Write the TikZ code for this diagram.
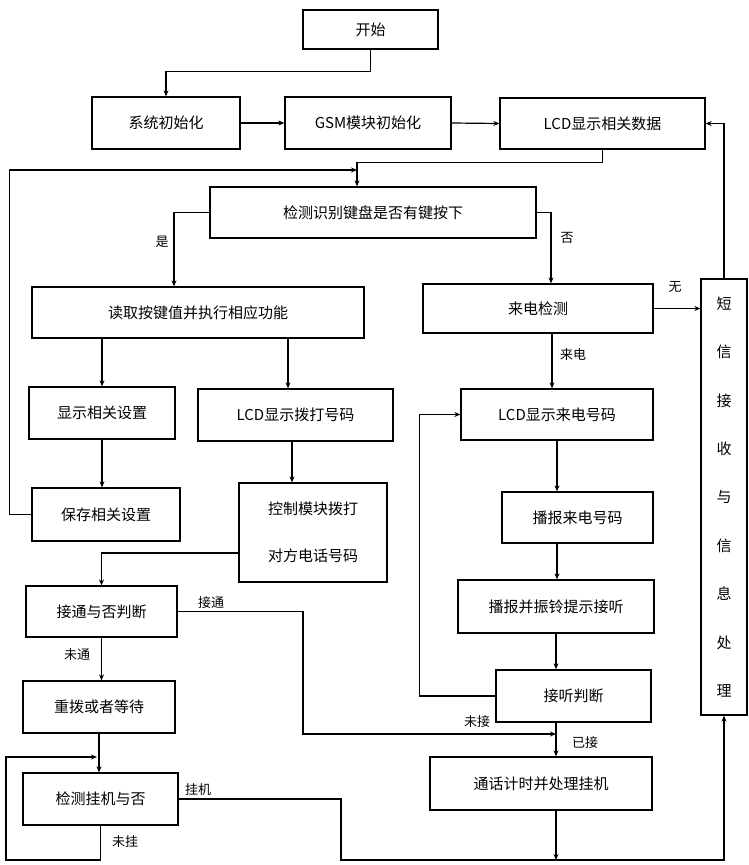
\documentclass[tikz,border=0pt]{standalone}
\usepackage{fontspec}
\setmainfont{Noto Sans CJK SC}
\usetikzlibrary{arrows.meta}
\begin{document}
\begin{tikzpicture}[x=1pt,y=-1pt,
  box/.style={draw, line width=1.3pt, inner sep=0pt, font=\fontsize{15}{18}\selectfont, align=center},
  ln/.style={line width=1.2pt},
  arr/.style={line width=1.2pt, -{Stealth[length=6pt,width=5pt]}},
  thk/.style={line width=2pt, -{Stealth[length=6pt,width=5pt]}},
  lab/.style={font=\fontsize{13}{15}\selectfont, inner sep=1pt}]
\useasboundingbox (0,0) rectangle (748,865);
% boxes
\node[box, minimum width=135pt, minimum height=39pt] (start) at (370.5,29.5) {开始};
\node[box, minimum width=148pt, minimum height=52pt] (init) at (166,123) {系统初始化};
\node[box, minimum width=166pt, minimum height=52pt] (gsm) at (368,123) {GSM模块初始化};
\node[box, minimum width=205pt, minimum height=51pt] (lcd1) at (602.5,123.5) {LCD显示相关数据};
\node[box, minimum width=326pt, minimum height=51pt] (dec) at (373,212.5) {检测识别键盘是否有键按下};
\node[box, minimum width=332pt, minimum height=51pt] (read) at (198,312.5) {读取按键值并执行相应功能};
\node[box, minimum width=146pt, minimum height=52pt] (showset) at (102,413) {显示相关设置};
\node[box, minimum width=195pt, minimum height=52pt] (lcddial) at (295.5,415) {LCD显示拨打号码};
\node[box, minimum width=148pt, minimum height=53pt] (save) at (106,514.5) {保存相关设置};
\node[box, minimum width=148pt, minimum height=99pt, font=\fontsize{15}{47}\selectfont] (ctrl) at (313,532.5) {控制模块拨打\\对方电话号码};
\node[box, minimum width=151pt, minimum height=51pt] (conn) at (101.5,611.5) {接通与否判断};
\node[box, minimum width=152pt, minimum height=52pt] (redial) at (99,707) {重拨或者等待};
\node[box, minimum width=155pt, minimum height=52pt] (hang) at (100.5,799) {检测挂机与否};
\node[box, minimum width=230pt, minimum height=49pt] (ring) at (538,308.5) {来电检测};
\node[box, minimum width=192pt, minimum height=51pt] (lcdring) at (557,414.5) {LCD显示来电号码};
\node[box, minimum width=151pt, minimum height=51pt] (announce) at (577.5,517.5) {播报来电号码};
\node[box, minimum width=196pt, minimum height=53pt] (ringtone) at (556,606.5) {播报并振铃提示接听};
\node[box, minimum width=155pt, minimum height=52pt] (answer) at (573.5,696) {接听判断};
\node[box, minimum width=222pt, minimum height=53pt] (talk) at (541,783.5) {通话计时并处理挂机};
\node[box, minimum width=46pt, minimum height=436pt, font=\fontsize{15}{48.4}\selectfont] (sms) at (724,497) {短\\信\\接\\收\\与\\信\\息\\处\\理};
% junction coordinates
\coordinate (j1) at (357,170);
\coordinate (j2) at (556,734);
\coordinate (j3) at (97,757);
\coordinate (c303) at (303,734);
\coordinate (b1) at (341,860);
\coordinate (bot) at (0,860);
% connectors
\draw[arr] (start.south) -- ++(0,22) -| (init.north);
\draw[arr] (init.east) -- (gsm.west);
\draw[arr] (gsm.east) -- (lcd1.west);
\draw[arr] (sms.north) |- (lcd1.east);
\draw[arr] (lcd1.south) -- ++(0,13) -| ([xshift=-16pt]dec.north);
\draw[arr] (save.west) -- ++(-22,0) |- (j1);
\draw[arr] (dec.west) -| ([xshift=-24pt]read.north);
\node[lab] at (162,242) {是};
\draw[arr] (dec.east) -| ([xshift=13pt]ring.north);
\node[lab] at (567,238) {否};
\draw[arr] (showset.north |- read.south) -- (showset.north);
\draw[thk] ([xshift=-7.5pt]lcddial.north |- read.south) -- ([xshift=-7.5pt]lcddial.north);
\draw[arr] (showset.south) -- (showset.south |- save.north);
\draw[arr] ([xshift=-3.5pt]lcddial.south) -- ([xshift=-3.5pt]lcddial.south |- ctrl.north);
\draw[arr] ([yshift=-20.5pt]ctrl.west) -| (conn.north);
\draw[arr] (conn.east) -| (c303) -- (j2);
\node[lab] at (211,603) {接通};
\draw[arr] (conn.south) -- (conn.south |- redial.north);
\node[lab] at (77,655) {未通};
\draw[thk] (redial.south) -- (redial.south |- hang.north);
\draw[arr] (hang.east) -| (b1) -| (sms.south);
\node[lab] at (198,790) {挂机};
\draw[arr] (hang.south) -- (hang.south |- bot) -| ([xshift=-91pt]j3) -- (j3);
\node[lab] at (125,842) {未挂};
\draw[arr] ([xshift=14pt]ring.south) -- ([xshift=14pt]ring.south |- lcdring.north);
\node[lab] at (573,355) {来电};
\draw[arr] (ring.east) -- (ring.east -| sms.west);
\node[lab] at (675,287) {无};
\draw[arr] (lcdring.south) -- (lcdring.south |- announce.north);
\draw[arr] (lcdring.south |- announce.south) -- (lcdring.south |- ringtone.north);
\draw[arr] (ringtone.south) -- (ringtone.south |- answer.north);
\draw[arr] (ringtone.south |- answer.south) -- (ringtone.south |- talk.north);
\draw[arr] (answer.west) -- ++(-76,0) |- (lcdring.west);
\node[lab] at (477,722) {未接};
\node[lab] at (585,743) {已接};
\draw[arr] (ringtone.south |- talk.south) -- (ringtone.south |- bot);
\end{tikzpicture}
\end{document}
